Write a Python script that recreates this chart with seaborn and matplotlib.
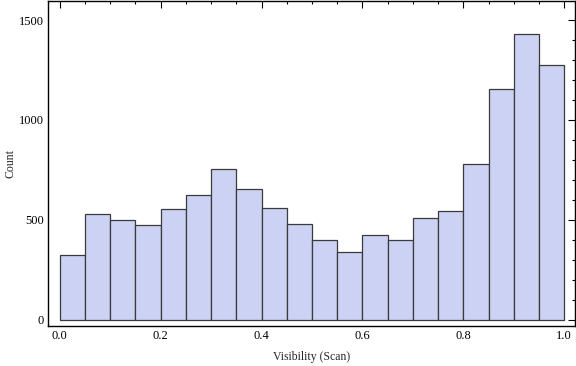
import matplotlib
matplotlib.use("Agg")
import matplotlib.pyplot as plt
import numpy as np
import seaborn as sns
from matplotlib.ticker import MultipleLocator

# bin edges (width 0.05) and counts
bin_edges = [round(0.05 * i, 2) for i in range(21)]
counts = [325, 530, 500, 475, 555, 625, 755, 653, 560, 480,
          400, 340, 425, 400, 510, 545, 780, 1155, 1430, 1275]
x_label = "Visibility (Scan)"
y_label = "Count"

centers = [(a + b) / 2 for a, b in zip(bin_edges[:-1], bin_edges[1:])]

sns.set_theme(style="white")
plt.rcParams["font.family"] = ["Liberation Serif", "DejaVu Serif"]

fig = plt.figure(figsize=(5.76, 3.66), dpi=100)
ax = fig.add_axes([0.084, 0.109, 0.914, 0.889])

sns.histplot(x=centers, weights=counts, bins=bin_edges, ax=ax,
             color="#CBD2F4", alpha=1.0, edgecolor="#3a3a3a", linewidth=0.9)

ax.set_xlim(-0.0224, 1.021)
ax.set_ylim(-33, 1597)
ax.xaxis.set_major_locator(MultipleLocator(0.2))
ax.xaxis.set_minor_locator(MultipleLocator(0.05))
ax.yaxis.set_major_locator(MultipleLocator(500))
ax.yaxis.set_minor_locator(MultipleLocator(100))
ax.xaxis.set_major_formatter(matplotlib.ticker.FormatStrFormatter("%.1f"))
ax.tick_params(which="both", direction="in", top=True, right=True,
               labeltop=False, labelright=False, colors="black",
               labelsize=9, width=0.8)
ax.tick_params(which="major", length=5, pad=3)
ax.tick_params(which="minor", length=2.5)
for s in ax.spines.values():
    s.set_color("black")
    s.set_linewidth(1.0)

ax.set_xlabel(x_label, fontsize=8.5, labelpad=6)
ax.set_ylabel(y_label, fontsize=8.5, labelpad=2)

fig.savefig("out.png", dpi=100)
